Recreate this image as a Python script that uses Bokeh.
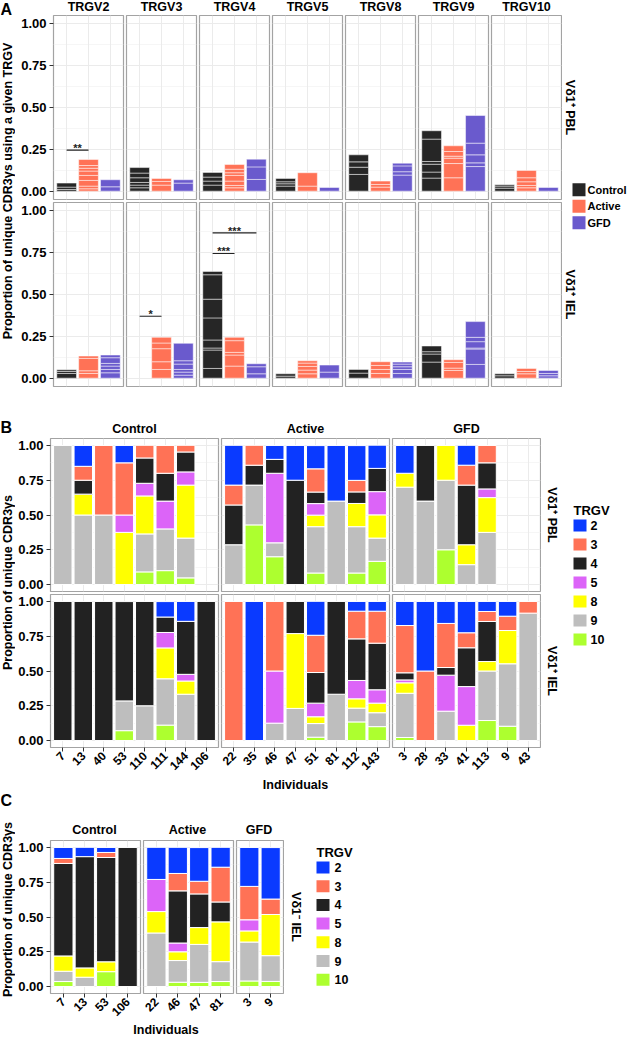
import math
from bokeh.plotting import figure
from bokeh.models import (FactorRange, Range1d, FixedTicker, PrintfTickFormatter,
                          LinearAxis, CategoricalAxis, CategoricalTicker, Grid, Spacer)
from bokeh.layouts import row, column
from bokeh.core.properties import value
from bokeh.embed import file_html
from bokeh.resources import INLINE

FONT = "Liberation Sans"

# ------------------------------------------------------------------ data: panel A
A_TRGV = ["TRGV2", "TRGV3", "TRGV4", "TRGV5", "TRGV8", "TRGV9", "TRGV10"]
A_GROUPS = ["Control", "Active", "GFD"]
A_COLORS = ["#262626", "#FF7256", "#6A5ACD"]
A_ROWS = ["Vδ1⁺ PBL", "Vδ1⁺ IEL"]

# stacked per-individual contributions (bottom -> top), one list per TRGV
A_PBL_CONTROL = [[0.010, 0.014, 0.024], [0.020, 0.016, 0.016, 0.028, 0.028, 0.033],
                 [0.036, 0.024, 0.024, 0.028], [0.030, 0.014, 0.012, 0.020],
                 [0.100, 0.043, 0.032, 0.042], [0.078, 0.036, 0.047, 0.016, 0.134, 0.050],
                 [0.018, 0.012, 0.008]]
A_PBL_ACTIVE = [[0.014, 0.016, 0.034, 0.030, 0.026, 0.017, 0.016, 0.036], [0.036, 0.022, 0.018],
                [0.020, 0.014, 0.026, 0.034, 0.016, 0.021, 0.028], [0.030, 0.080],
                [0.024, 0.016, 0.020], [0.080, 0.085, 0.032, 0.012, 0.028, 0.034],
                [0.020, 0.014, 0.022, 0.024, 0.044]]
A_PBL_GFD = [[0.026, 0.042], [0.048, 0.020], [0.070, 0.075, 0.046], [0.022],
             [0.096, 0.020, 0.035, 0.016], [0.147, 0.022, 0.048, 0.070, 0.165], [0.022]]
A_IEL_CONTROL = [[0.028, 0.012, 0.010], [],
                 [0.058, 0.110, 0.012, 0.048, 0.132, 0.112, 0.146, 0.020],
                 [0.012, 0.014], [0.030, 0.022], [0.096, 0.048, 0.014, 0.034], [0.014, 0.012]]
A_IEL_ACTIVE = [[0.028, 0.016, 0.074, 0.014], [0.052, 0.046, 0.078, 0.034, 0.034],
                [0.072, 0.066, 0.016, 0.070, 0.020], [0.026, 0.022, 0.022, 0.020, 0.014],
                [0.028, 0.024, 0.024, 0.022], [0.046, 0.014, 0.034, 0.016], [0.026, 0.014, 0.018]]
A_IEL_GFD = [[0.032, 0.020, 0.020, 0.016, 0.034, 0.016], [0.018, 0.018, 0.016, 0.032, 0.020, 0.104],
             [0.026, 0.042, 0.018], [0.036, 0.042], [0.028, 0.024, 0.016, 0.016, 0.012],
             [0.082, 0.092, 0.006, 0.038, 0.026, 0.094], [0.014, 0.014, 0.018]]

A_SIG_ROW = [0, 1, 1, 1]
A_SIG_TRGV = ["TRGV2", "TRGV3", "TRGV4", "TRGV4"]
A_SIG_FROM = ["Control", "Control", "Control", "Control"]
A_SIG_TO = ["Active", "Active", "Active", "GFD"]
A_SIG_Y = [0.245, 0.37, 0.745, 0.868]
A_SIG_LABEL = ["**", "*", "***", "***"]

# ------------------------------------------------------------------ data: panels B, C
GENES = ["2", "3", "4", "5", "8", "9", "10"]
GENE_COLORS = ["#0A3AFF", "#FF7256", "#222222", "#DC64F8", "#FFFF00", "#BEBEBE", "#ADFF2F"]

B_CONTROL_IDS = ["7", "13", "40", "53", "110", "111", "144", "106"]
B_ACTIVE_IDS = ["22", "35", "46", "47", "51", "81", "112", "143"]
B_GFD_IDS = ["3", "28", "33", "41", "113", "9", "43"]
B_ROWS = ["Vδ1⁺ PBL", "Vδ1⁺ IEL"]

# proportions per individual in GENES order (2, 3, 4, 5, 8, 9, 10)
B_PBL_CONTROL = {
    "7": [0, 0, 0, 0, 0, 1.0, 0],
    "13": [0.15, 0.10, 0.10, 0, 0.15, 0.50, 0],
    "40": [0, 0.50, 0, 0, 0, 0.50, 0],
    "53": [0.125, 0.375, 0, 0.125, 0.375, 0, 0],
    "110": [0, 0.091, 0.182, 0.091, 0.273, 0.273, 0.091],
    "111": [0, 0.20, 0.20, 0.20, 0, 0.30, 0.10],
    "144": [0, 0.048, 0.143, 0.095, 0.381, 0.286, 0.048],
}
B_PBL_ACTIVE = {
    "22": [0.286, 0.143, 0.286, 0, 0, 0.286, 0],
    "35": [0, 0.143, 0.143, 0, 0, 0.286, 0.429],
    "46": [0.10, 0, 0.10, 0.50, 0, 0.10, 0.20],
    "47": [0.25, 0, 0.75, 0, 0, 0, 0],
    "51": [0.167, 0.167, 0.083, 0.083, 0.083, 0.333, 0.083],
    "81": [0.40, 0, 0, 0, 0, 0.60, 0],
    "112": [0.25, 0.083, 0.083, 0, 0.167, 0.333, 0.083],
    "143": [0.167, 0, 0.167, 0.167, 0.167, 0.167, 0.167],
}
B_PBL_GFD = {
    "3": [0.20, 0, 0, 0, 0.10, 0.70, 0],
    "28": [0, 0, 0.40, 0, 0, 0.60, 0],
    "33": [0, 0, 0, 0, 0.25, 0.50, 0.25],
    "41": [0.143, 0.143, 0.429, 0, 0.143, 0.143, 0],
    "113": [0, 0.125, 0.1875, 0.0625, 0.25, 0.375, 0],
}
B_IEL_CONTROL = {
    "7": [0, 0, 1.0, 0, 0, 0, 0],
    "13": [0, 0, 1.0, 0, 0, 0, 0],
    "40": [0, 0, 1.0, 0, 0, 0, 0],
    "53": [0, 0, 0.714, 0, 0, 0.214, 0.071],
    "110": [0, 0, 0.75, 0, 0, 0.25, 0],
    "111": [0.111, 0, 0.111, 0.111, 0.222, 0.333, 0.111],
    "144": [0.143, 0, 0.381, 0.048, 0.095, 0.333, 0],
    "106": [0, 0, 1.0, 0, 0, 0, 0],
}
B_IEL_ACTIVE = {
    "22": [0, 1.0, 0, 0, 0, 0, 0],
    "35": [1.0, 0, 0, 0, 0, 0, 0],
    "46": [0, 0.50, 0, 0.375, 0, 0.125, 0],
    "47": [0, 0, 0.231, 0, 0.538, 0.231, 0],
    "51": [0.244, 0.268, 0.22, 0.098, 0.049, 0.098, 0.024],
    "81": [0, 0, 0.667, 0, 0, 0.333, 0],
    "112": [0.07, 0.199, 0.299, 0.132, 0.067, 0.099, 0.134],
    "143": [0.07, 0.23, 0.335, 0.096, 0.069, 0.10, 0.10],
}
B_IEL_GFD = {
    "3": [0.173, 0.34, 0.051, 0.021, 0.075, 0.318, 0.022],
    "28": [0.50, 0.50, 0, 0, 0, 0, 0],
    "33": [0.158, 0.317, 0.055, 0.259, 0, 0.211, 0],
    "41": [0.225, 0.108, 0.279, 0.278, 0.11, 0, 0],
    "113": [0.072, 0.072, 0.288, 0, 0.068, 0.356, 0.144],
    "9": [0.106, 0.103, 0, 0, 0.239, 0.449, 0.103],
    "43": [0, 0.084, 0, 0, 0, 0.916, 0],
}

C_CONTROL_IDS = ["7", "13", "53", "106"]
C_ACTIVE_IDS = ["22", "46", "47", "81"]
C_GFD_IDS = ["3", "9"]
C_ROW = "Vδ1⁻ IEL"
C_IEL_CONTROL = {
    "7": [0.079, 0.036, 0.665, 0, 0.11, 0.074, 0.036],
    "13": [0.067, 0, 0.80, 0, 0.067, 0.067, 0],
    "53": [0.036, 0.036, 0.75, 0, 0.071, 0, 0.107],
    "106": [0, 0, 1.0, 0, 0, 0, 0],
}
C_IEL_ACTIVE = {
    "22": [0.231, 0, 0, 0.231, 0.154, 0.385, 0],
    "46": [0.188, 0.125, 0.375, 0.063, 0.063, 0.156, 0.031],
    "47": [0.242, 0.091, 0.242, 0, 0.121, 0.273, 0.03],
    "81": [0.143, 0.25, 0.143, 0, 0.286, 0.143, 0.036],
}
C_IEL_GFD = {
    "3": [0.28, 0.24, 0, 0.08, 0.08, 0.28, 0.04],
    "9": [0.37, 0.111, 0, 0, 0.296, 0.185, 0.037],
}

Y_TICKS = [0.0, 0.25, 0.5, 0.75, 1.0]
Y_MINOR = [0.125, 0.375, 0.625, 0.875]
Y_TITLE_A = "Proportion of unique CDR3γs using a given TRGV"
Y_TITLE_BC = "Proportion of unique CDR3γs"
X_TITLE = "Individuals"
LEGEND_TITLE = "TRGV"


# ------------------------------------------------------------------ helpers
def canvas(w, h):
    p = figure(width=w, height=h, x_range=Range1d(0, w), y_range=Range1d(0, h),
               x_axis_location=None, y_axis_location=None, title_location=None,
               min_border=0, min_border_left=0, min_border_right=0,
               min_border_top=0, min_border_bottom=0,
               output_backend="svg", toolbar_location=None,
               outline_line_color=None, background_fill_color="white",
               border_fill_color="white")
    p.grid.visible = False
    return p


def put(p, x, ytop, txt, size="12px", angle=0.0, align="center", baseline="middle"):
    p.text(x=[x], y=[p.height - ytop], text=[txt], angle=angle,
           text_font=value(FONT), text_font_size=size, text_font_style="bold",
           text_align=align, text_baseline=baseline, text_color="black")


def style_axis(ax, size):
    ax.axis_line_color = None
    ax.major_tick_line_color = "#333333"
    ax.major_tick_out = 4
    ax.major_tick_in = 0
    ax.minor_tick_line_color = None
    ax.major_label_text_font = FONT
    ax.major_label_text_font_size = size
    ax.major_label_text_font_style = "bold"
    ax.major_label_text_color = "black"
    ax.major_label_standoff = 2


def facet(factors, fw, fh, left, right, top, bottom, yaxis=False, xaxis=False):
    n = len(factors)
    p = figure(frame_width=fw, frame_height=fh,
               x_range=FactorRange(factors=factors, range_padding=0.2 / n,
                                   range_padding_units="percent"),
               y_range=Range1d(-0.05, 1.05),
               x_axis_location=None, y_axis_location=None, title_location=None,
               min_border=0, min_border_left=left, min_border_right=right,
               min_border_top=top, min_border_bottom=bottom,
               output_backend="svg", toolbar_location=None,
               background_fill_color="white", border_fill_color="white",
               outline_line_color="#a3a3a3", outline_line_width=1.2)
    p.grid.visible = False
    yt = FixedTicker(ticks=Y_TICKS, minor_ticks=Y_MINOR)
    p.add_layout(Grid(dimension=1, ticker=yt, grid_line_color="#ebebeb", grid_line_width=1,
                      minor_grid_line_color="#f4f4f4", minor_grid_line_width=0.8))
    p.add_layout(Grid(dimension=0, ticker=CategoricalTicker(), grid_line_color="#ebebeb",
                      grid_line_width=1))
    if yaxis:
        ax = LinearAxis(ticker=yt, formatter=PrintfTickFormatter(format="%.2f"))
        style_axis(ax, "13px")
        ax.major_label_standoff = 3
        p.add_layout(ax, "left")
    if xaxis:
        ax = CategoricalAxis(ticker=CategoricalTicker(), major_label_orientation=math.pi / 4)
        style_axis(ax, "12px")
        p.add_layout(ax, "below")
    return p


def draw_groups(p, seg_lists):
    for g, segs, col in zip(A_GROUPS, seg_lists, A_COLORS):
        xs, bs, ts, b = [], [], [], 0.0
        for s in segs:
            xs.append(g); bs.append(b); ts.append(b + s); b += s
        if xs:
            p.vbar(x=xs, bottom=bs, top=ts, width=0.9, fill_color=col,
                   line_color="white", line_alpha=0.55, line_width=0.9)


def draw_stack(p, props):
    ids = list(props.keys())
    base = {i: 0.0 for i in ids}
    for gi in reversed(range(len(GENES))):
        xs, bs, ts = [], [], []
        for i in ids:
            v = props[i][gi]
            if v > 0:
                xs.append(i); bs.append(base[i]); ts.append(base[i] + v); base[i] += v
        if xs:
            p.vbar(x=xs, bottom=bs, top=ts, width=0.9, fill_color=GENE_COLORS[gi],
                   line_color="white", line_width=1)


LW = 15          # left column (panel letter + y title)
TOTAL_W = 627
GAP = 3

# ------------------------------------------------------------------ section A
A_H, A_HDR, A_FW, A_FH, A_YAX = 413, 14, 70, 184, 38
A_DATA = [[A_PBL_CONTROL, A_PBL_ACTIVE, A_PBL_GFD], [A_IEL_CONTROL, A_IEL_ACTIVE, A_IEL_GFD]]

a_rows = []
for r in range(2):
    figs = []
    for i, tg in enumerate(A_TRGV):
        left = A_YAX if i == 0 else 1
        right = 2 if i < len(A_TRGV) - 1 else 1
        p = facet(A_GROUPS, A_FW, A_FH, left, right, 1, 2 if r == 0 else 1, yaxis=(i == 0))
        draw_groups(p, [A_DATA[r][k][i] for k in range(3)])
        for sr, st, sf, sto, sy, sl in zip(A_SIG_ROW, A_SIG_TRGV, A_SIG_FROM, A_SIG_TO,
                                            A_SIG_Y, A_SIG_LABEL):
            if sr == r and st == tg:
                p.segment(x0=[sf], y0=[sy], x1=[sto], y1=[sy], line_color="#222222",
                          line_width=1.2)
                mid = (sf, 0.5) if sto == "Active" else "Active"
                p.text(x=[mid], y=[sy + 0.013], text=[sl], text_font=value(FONT),
                       text_font_size="11px", text_font_style="bold",
                       text_align="center", text_baseline="alphabetic", text_color="#222222")
        figs.append(p)
    a_rows.append(row(*figs))

a_grid_w = A_YAX + len(A_TRGV) * A_FW + (len(A_TRGV) - 1) * GAP + 1
a_hdr = canvas(a_grid_w, A_HDR)
for i, tg in enumerate(A_TRGV):
    put(a_hdr, A_YAX + A_FW / 2 + i * (A_FW + GAP), 6.5, tg, size="12.5px")

a_left = canvas(LW, A_H)
put(a_left, 0, 0, "A", size="16px", align="left", baseline="top")
put(a_left, 7, 190.5, Y_TITLE_A, size="12.5px", angle=math.pi / 2)

a_r1c = A_HDR + 1 + A_FH / 2
a_r2c = A_HDR + (1 + A_FH + 2) + 1 + A_FH / 2
a_right_w = TOTAL_W - LW - a_grid_w
a_right = canvas(a_right_w, A_H)
put(a_right, 7, a_r1c, A_ROWS[0], size="12.5px", angle=-math.pi / 2)
put(a_right, 7, a_r2c, A_ROWS[1], size="12.5px", angle=-math.pi / 2)
for k, (g, col) in enumerate(zip(A_GROUPS, A_COLORS)):
    yc = 189.2 + k * 16.5
    a_right.rect(x=[16.5], y=[A_H - yc], width=13, height=13, fill_color=col, line_color=None)
    put(a_right, 25, yc, g, size="11px", align="left")

used_a = A_HDR + (1 + A_FH + 2) + (1 + A_FH + 1)
sec_a = row(a_left, column(a_hdr, a_rows[0], a_rows[1], Spacer(width=a_grid_w, height=A_H - used_a)),
            a_right)

# ------------------------------------------------------------------ section B
B_H, B_HDR, B_FH, B_YAX = 378, 24, 153, 35
UNIT = 20.5
b_cols = [("Control", B_CONTROL_IDS, B_PBL_CONTROL, B_IEL_CONTROL),
          ("Active", B_ACTIVE_IDS, B_PBL_ACTIVE, B_IEL_ACTIVE),
          ("GFD", B_GFD_IDS, B_PBL_GFD, B_IEL_GFD)]
b_fw = [round((len(c[1]) + 0.2) * UNIT) for c in b_cols]
b_rows = [[], []]
for j, (name, ids, pbl, iel) in enumerate(b_cols):
    left = B_YAX if j == 0 else 1
    right = 2 if j < 2 else 1
    p1 = facet(ids, b_fw[j], B_FH, left, right, 1, 2, yaxis=(j == 0))
    draw_stack(p1, pbl)
    p2 = facet(ids, b_fw[j], B_FH, left, right, 1, 30, yaxis=(j == 0), xaxis=True)
    draw_stack(p2, iel)
    b_rows[0].append(p1)
    b_rows[1].append(p2)

b_grid_w = B_YAX + sum(b_fw) + 2 * GAP + 1
b_centers = []
xx = B_YAX
for w in b_fw:
    b_centers.append(xx + w / 2)
    xx += w + GAP
b_hdr = canvas(b_grid_w, B_HDR)
for (name, *_), cx in zip(b_cols, b_centers):
    put(b_hdr, cx, 15, name, size="12.5px")
b_xt = canvas(b_grid_w, 14)
put(b_xt, (B_YAX + xx - GAP) / 2, 7, X_TITLE, size="12.5px")

b_left = canvas(LW, B_H)
put(b_left, 0, 5, "B", size="16px", align="left", baseline="top")
put(b_left, 7, 169, Y_TITLE_BC, size="12.5px", angle=math.pi / 2)

b_right_w = TOTAL_W - LW - b_grid_w
b_right = canvas(b_right_w, B_H)
put(b_right, 10, B_HDR + 1 + B_FH / 2, B_ROWS[0], size="12.5px", angle=-math.pi / 2)
put(b_right, 10, B_HDR + 156 + 1 + B_FH / 2, B_ROWS[1], size="12.5px", angle=-math.pi / 2)
put(b_right, 32, 97, LEGEND_TITLE, size="13px", align="left")
for k, (g, col) in enumerate(zip(GENES, GENE_COLORS)):
    yc = 112 + k * 19
    b_right.rect(x=[38.5], y=[B_H - yc], width=13, height=12, fill_color=col, line_color=None)
    put(b_right, 49, yc, g, size="12.5px", align="left")

sec_b = row(b_left, column(b_hdr, row(*b_rows[0]), row(*b_rows[1]), b_xt), b_right)

# ------------------------------------------------------------------ section C
C_H, C_HDR, C_FH, C_YAX = 243, 48, 153, 34
C_UNIT = 21.4
c_cols = [("Control", C_CONTROL_IDS, C_IEL_CONTROL),
          ("Active", C_ACTIVE_IDS, C_IEL_ACTIVE),
          ("GFD", C_GFD_IDS, C_IEL_GFD)]
c_fw = [round((len(c[1]) + 0.2) * C_UNIT) for c in c_cols]
c_figs = []
for j, (name, ids, iel) in enumerate(c_cols):
    left = C_YAX if j == 0 else 1
    right = 2 if j < 2 else 1
    p = facet(ids, c_fw[j], C_FH, left, right, 1, 28, yaxis=(j == 0), xaxis=True)
    draw_stack(p, iel)
    c_figs.append(p)

c_grid_w = C_YAX + sum(c_fw) + 2 * GAP + 1
c_centers = []
xx = C_YAX
for w in c_fw:
    c_centers.append(xx + w / 2)
    xx += w + GAP
c_hdr = canvas(c_grid_w, C_HDR)
for (name, *_), cx in zip(c_cols, c_centers):
    put(c_hdr, cx, 38.5, name, size="12.5px")
c_xt = canvas(c_grid_w, C_H - C_HDR - (1 + C_FH + 28))
put(c_xt, (C_YAX + xx - GAP) / 2, 6.5, X_TITLE, size="12.5px")

c_left = canvas(LW, C_H)
put(c_left, 0, 0, "C", size="16px", align="left", baseline="top")
put(c_left, 7, 118, Y_TITLE_BC, size="12.5px", angle=math.pi / 2)

c_right_w = TOTAL_W - LW - c_grid_w
c_right = canvas(c_right_w, C_H)
put(c_right, 11, C_HDR + 1 + C_FH / 2, C_ROW, size="12.5px", angle=-math.pi / 2)
put(c_right, 32, 61, LEGEND_TITLE, size="13px", align="left")
for k, (g, col) in enumerate(zip(GENES, GENE_COLORS)):
    yc = 76 + k * 18.7
    c_right.rect(x=[38.5], y=[C_H - yc], width=13, height=12, fill_color=col, line_color=None)
    put(c_right, 50, yc, g, size="12.5px", align="left")

sec_c = row(c_left, column(c_hdr, row(*c_figs), c_xt), c_right)

layout = column(sec_a, sec_b, sec_c)
open("out.html", "w").write(file_html(layout, INLINE))
